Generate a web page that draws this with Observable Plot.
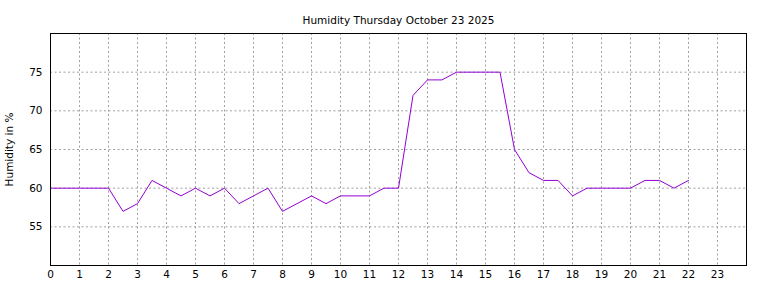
<!DOCTYPE html>
<html>
<head>
<meta charset="utf-8">
<script src="https://cdn.jsdelivr.net/npm/d3@7"></script>
<script src="https://cdn.jsdelivr.net/npm/@observablehq/plot@0.6"></script>
<style>
  html, body { margin: 0; padding: 0; background: #fff; }
  #chart svg { display: block; }
</style>
</head>
<body>
<div id="chart"></div>
<script>
const titleText = "Humidity Thursday October 23 2025";
const yLabel = "Humidity in %";
const hours = [0, 0.5, 1, 1.5, 2, 2.5, 3, 3.5, 4, 4.5, 5, 5.5, 6, 6.5, 7, 7.5, 8, 8.5, 9, 9.5, 10, 10.5, 11, 11.5,
               12, 12.5, 13, 13.5, 14, 14.5, 15, 15.5, 16, 16.5, 17, 17.5, 18, 18.5, 19, 19.5, 20, 20.5, 21, 21.5, 22];
const humidity = [60, 60, 60, 60, 60, 57, 58, 61, 60, 59, 60, 59, 60, 58, 59, 60, 57, 58, 59, 58, 59, 59, 59, 60,
                  60, 72, 74, 74, 75, 75, 75, 75, 65, 62, 61, 61, 59, 60, 60, 60, 60, 61, 61, 60, 61];
const xTicks = d3.range(0, 24);
const yTicks = [55, 60, 65, 70, 75];

const data = hours.map((h, i) => ({hour: h, value: humidity[i]}));

const font = "DejaVu Sans, sans-serif";
const chart = Plot.plot({
  width: 768,
  height: 288,
  marginLeft: 50,
  marginRight: 22,
  marginTop: 33,
  marginBottom: 23,
  style: {fontFamily: font, fontSize: "10.5px", background: "#fff", color: "#000"},
  x: {domain: [0, 24], ticks: xTicks, tickFormat: d => String(d), label: null},
  y: {domain: [50, 80], ticks: yTicks, tickFormat: d => String(d), label: null},
  marks: [
    Plot.gridX(xTicks, {stroke: "#a0a0a0", strokeOpacity: 1, strokeDasharray: "2,2.5", strokeWidth: 1}),
    Plot.gridY(yTicks, {stroke: "#a0a0a0", strokeOpacity: 1, strokeDasharray: "2,2.5", strokeWidth: 1}),
    Plot.axisX({ticks: xTicks, tickSize: 0, tickPadding: 5, tickFormat: d => String(d), label: null, fontSize: 10.5}),
    Plot.axisY({ticks: yTicks, tickSize: 0, tickPadding: 8, tickFormat: d => String(d), label: null, fontSize: 10.5}),
    Plot.line(data, {x: "hour", y: "value", stroke: "#9400d3", strokeWidth: 1}),
    Plot.frame({stroke: "#000", strokeWidth: 1}),
    Plot.text([titleText], {frameAnchor: "top", dy: -17, fontSize: 10.5, fill: "#000", textAnchor: "middle"}),
    Plot.text([yLabel], {frameAnchor: "left", dx: -41, rotate: -90, fontSize: 10.5, fill: "#000", textAnchor: "middle"})
  ]
});
document.getElementById("chart").appendChild(chart);
</script>
</body>
</html>
